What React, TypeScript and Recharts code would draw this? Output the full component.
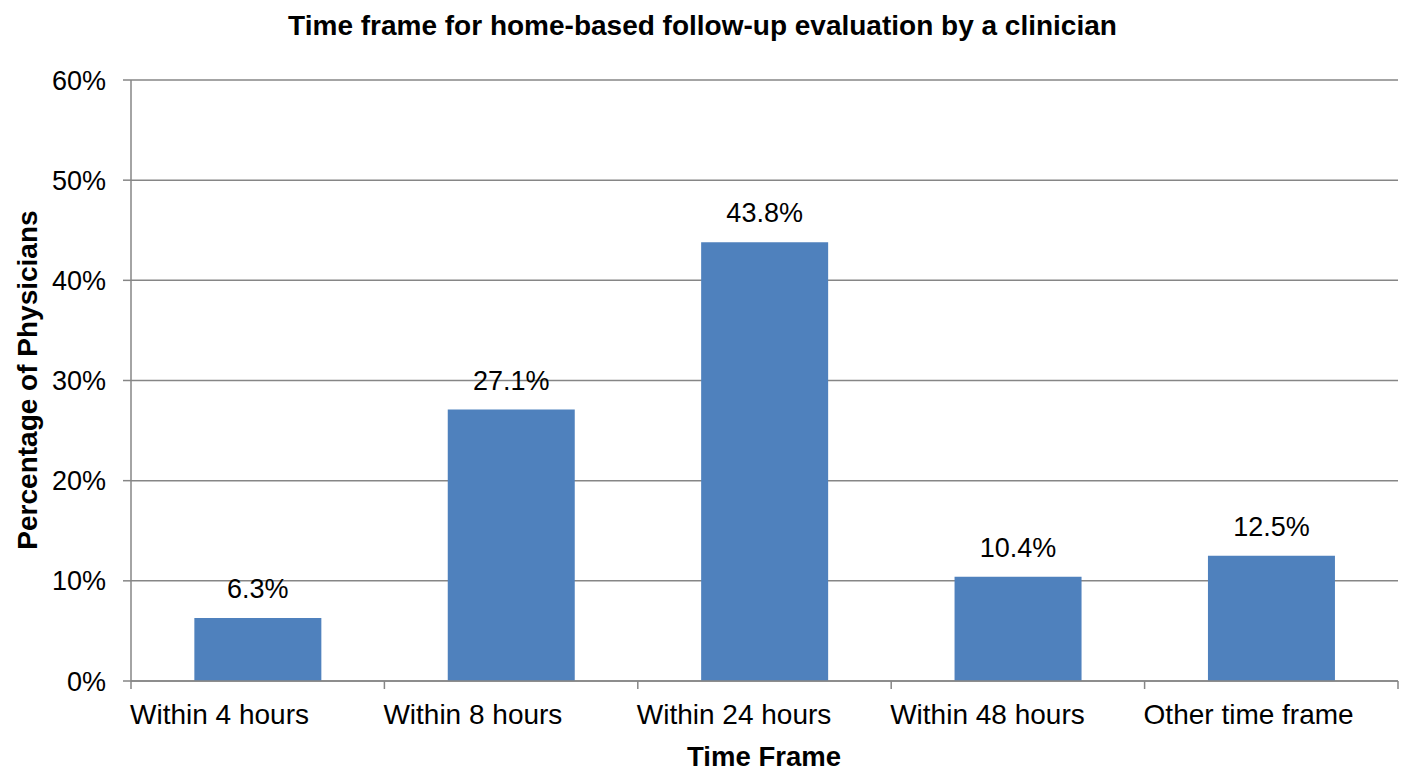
import React from "react"
import {
    BarChart,
    Bar,
    XAxis,
    YAxis,
    CartesianGrid,
    LabelList,
} from "recharts"

const categories = [
    "Within 4 hours",
    "Within 8 hours",
    "Within 24 hours",
    "Within 48 hours",
    "Other time frame",
]
const percentages = [6.3, 27.1, 43.8, 10.4, 12.5]
const yTicks = [0, 10, 20, 30, 40, 50, 60]

const data = categories.map((name, i) => ({ name, value: percentages[i] }))

const FONT = '"Liberation Sans", Arial, sans-serif'
const GRAY = "#868686"

// category labels sit left-aligned at the start of each band, ticks on band edges
function CategoryTick(props: any) {
    const { x, y, payload, index } = props
    const half = payload && payload.offset ? payload.offset : 126.7
    const last = index === categories.length - 1
    return (
        <g>
            <line x1={x - half} x2={x - half} y1={y} y2={y + 8} stroke={GRAY} strokeWidth={1.5} />
            {last && (
                <line x1={x + half} x2={x + half} y1={y} y2={y + 8} stroke={GRAY} strokeWidth={1.5} />
            )}
            <text
                x={x - half - 1}
                y={y + 23}
                dy="0.71em"
                textAnchor="start"
                fill="#000"
                fontSize={28}
                fontFamily={FONT}
            >
                {payload.value}
            </text>
        </g>
    )
}

export default function App() {
    return (
        <div style={{ position: "absolute", left: 0, top: 0, width: 1405, height: 770, background: "#fff", fontFamily: FONT }}>
            <div
                style={{
                    position: "absolute",
                    left: 0,
                    width: 1405,
                    top: 10,
                    textAlign: "center",
                    fontWeight: "bold",
                    fontSize: 28,
                    color: "#000",
                }}
            >
                Time frame for home-based follow-up evaluation by a clinician
            </div>
            <div
                style={{
                    position: "absolute",
                    left: 28,
                    top: 380,
                    transform: "translate(-50%, -50%) rotate(-90deg)",
                    whiteSpace: "nowrap",
                    fontWeight: "bold",
                    fontSize: 28,
                    color: "#000",
                }}
            >
                Percentage of Physicians
            </div>
            <div
                style={{
                    position: "absolute",
                    left: 764,
                    top: 757,
                    transform: "translate(-50%, -50%)",
                    whiteSpace: "nowrap",
                    fontWeight: "bold",
                    fontSize: 27.5,
                    color: "#000",
                }}
            >
                Time Frame
            </div>
            <BarChart
                width={1405}
                height={770}
                data={data}
                margin={{ top: 80, right: 7, bottom: 0, left: 0 }}
                barCategoryGap="25%"
                style={{ position: "absolute", left: 0, top: 0 }}
            >
                <CartesianGrid vertical={false} stroke={GRAY} strokeWidth={1.5} />
                <XAxis
                    dataKey="name"
                    height={89}
                    tickSize={0}
                    tickMargin={0}
                    tickLine={false}
                    axisLine={{ stroke: GRAY, strokeWidth: 1.5 }}
                    tick={<CategoryTick />}
                    interval={0}
                />
                <YAxis
                    width={131}
                    domain={[0, 60]}
                    ticks={yTicks}
                    tickFormatter={(v: number) => `${v}%`}
                    tickSize={8}
                    tickMargin={17}
                    tickLine={{ stroke: GRAY, strokeWidth: 1.5 }}
                    axisLine={{ stroke: GRAY, strokeWidth: 1.5 }}
                    tick={{ fill: "#000", fontSize: 27, fontFamily: FONT }}
                />
                <Bar dataKey="value" fill="#4F81BD" isAnimationActive={false}>
                    <LabelList
                        dataKey="value"
                        position="top"
                        offset={20}
                        formatter={(v: any) => `${v}%`}
                        fill="#000"
                        fontSize={27}
                        fontFamily={FONT}
                    />
                </Bar>
            </BarChart>
        </div>
    )
}
